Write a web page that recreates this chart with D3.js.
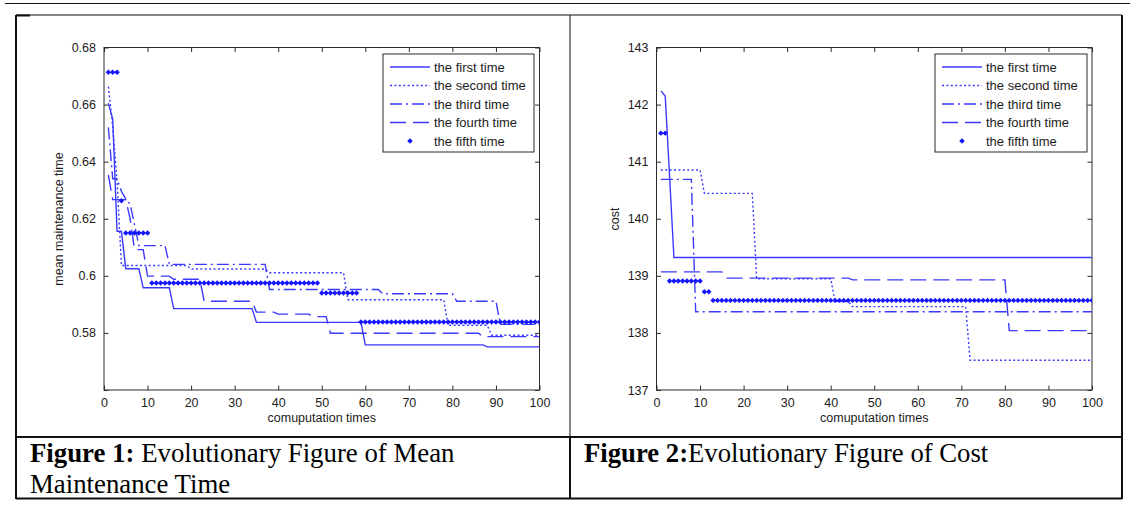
<!DOCTYPE html>
<html>
<head>
<meta charset="utf-8">
<script src="https://cdn.jsdelivr.net/npm/d3@7"></script>
<style>
  body { margin: 0; background: #fff; }
  svg { display: block; }
  .tick text { font-family: "Liberation Sans", Arial, sans-serif; }
</style>
</head>
<body>
<div id="chart"></div>
<script>
// axis ticks
let xTicks = [0, 10, 20, 30, 40, 50, 60, 70, 80, 90, 100]
let mmtTicks = [0.56, 0.58, 0.6, 0.62, 0.64, 0.66, 0.68]
let costTicks = [137, 138, 139, 140, 141, 142, 143]

let legendNames = ['the first time', 'the second time', 'the third time', 'the fourth time', 'the fifth time']

// figure 1 - mean maintenance time, steps: iteration where a new value starts
let mmtFirstX = [1, 2, 3, 5, 9, 16, 35, 60, 88]
let mmtFirstY = [0.6605, 0.6549, 0.6156, 0.6025, 0.5958, 0.5885, 0.5837, 0.5758, 0.5751]
let mmtSecondX = [1, 2, 3, 4, 20, 38, 56, 79, 89]
let mmtSecondY = [0.6663, 0.6523, 0.633, 0.6036, 0.6024, 0.6011, 0.5916, 0.5827, 0.5792]
let mmtThirdX = [1, 2, 4, 5, 6, 7, 8, 15, 38, 64, 81, 91]
let mmtThirdY = [0.652, 0.634, 0.6296, 0.627, 0.625, 0.618, 0.6106, 0.604, 0.5952, 0.5937, 0.5911, 0.583]
let mmtFourthX = [1, 2, 6, 7, 10, 16, 23, 35, 40, 48, 52, 87]
let mmtFourthY = [0.6354, 0.6267, 0.62, 0.6092, 0.5999, 0.5988, 0.5911, 0.5873, 0.5866, 0.5857, 0.5799, 0.5787]
// fifth run is drawn with markers only: runs of iterations sharing a value
let mmtFifthFrom = [1, 4, 5, 11, 50, 59]
let mmtFifthTo = [3, 4, 10, 49, 58, 100]
let mmtFifthY = [0.6713, 0.6263, 0.615, 0.5975, 0.594, 0.5838]

// figure 2 - cost
let costFirstX = [1, 2, 3, 4]
let costFirstY = [142.24, 142.15, 140.75, 139.32]
let costSecondX = [1, 11, 23, 41, 45, 72]
let costSecondY = [140.855, 140.445, 138.95, 138.55, 138.46, 137.52]
let costThirdX = [1, 9]
let costThirdY = [140.69, 138.37]
let costFourthX = [1, 16, 45, 81]
let costFourthY = [139.07, 138.96, 138.93, 138.04]
let costFifthFrom = [1, 3, 11, 13]
let costFifthTo = [2, 10, 12, 100]
let costFifthY = [141.5, 138.91, 138.72, 138.57]

let W = 1130
let H = 506
let blue = '#3a3aff'
let markBlue = '#1414ff'
let sans = '"Liberation Sans", Arial, sans-serif'
let serif = '"Liberation Serif", "Times New Roman", serif'
let dashes = [null, '2,2.4', '12,4,2,4', '16,7']

let svg = d3
	.select('#chart')
	.append('svg:svg')
	.attr('width', W)
	.attr('height', H)

svg.append('svg:rect').attr('width', W).attr('height', H).attr('fill', '#fff')

// turn step starts into polyline vertices (one iteration between levels)
let stepPoints = (starts, vals) => {
	let pts = []
	starts.forEach((s, i) => {
		let e = i < starts.length - 1 ? starts[i + 1] - 1 : 100
		pts.push([s, vals[i]])
		if (e > s) pts.push([e, vals[i]])
	})
	return pts
}

let drawPanel = p => {
	let x = d3.scaleLinear().domain([0, 100]).range([p.left, p.right])
	let y = d3.scaleLinear().domain(p.domain).range([390, 47.5])
	let g = svg.append('svg:g')

	let clipId = 'clip' + p.id
	g.append('svg:clipPath')
		.attr('id', clipId)
		.append('svg:rect')
		.attr('x', p.left)
		.attr('y', 47.5)
		.attr('width', p.right - p.left)
		.attr('height', 390 - 47.5)

	// box with inward ticks on all sides
	g.append('svg:rect')
		.attr('x', p.left)
		.attr('y', 47.5)
		.attr('width', p.right - p.left)
		.attr('height', 390 - 47.5)
		.attr('fill', 'none')
		.attr('stroke', '#2b2b2b')
		.attr('stroke-width', 1)

	let axB = g.append('g').attr('transform', 'translate(0,390)')
		.call(d3.axisBottom(x).tickValues(xTicks).tickSizeInner(-4.5).tickSizeOuter(0).tickPadding(8))
	let axT = g.append('g').attr('transform', 'translate(0,47.5)')
		.call(d3.axisTop(x).tickValues(xTicks).tickSizeInner(-4.5).tickSizeOuter(0).tickFormat(''))
	let axL = g.append('g').attr('transform', `translate(${p.left},0)`)
		.call(d3.axisLeft(y).tickValues(p.ticks).tickSizeInner(-4.5).tickSizeOuter(0).tickPadding(8)
			.tickFormat(d => (p.hideBottom && d === p.domain[0]) ? '' : d3.format(p.fmt)(d)))
	let axR = g.append('g').attr('transform', `translate(${p.right},0)`)
		.call(d3.axisRight(y).tickValues(p.ticks).tickSizeInner(-4.5).tickSizeOuter(0).tickFormat(''))
	;[axB, axT, axL, axR].forEach(a => {
		a.select('.domain').remove()
		a.selectAll('line').attr('stroke', '#2b2b2b')
		a.selectAll('text').attr('font-size', 12.5).attr('fill', '#1c1c1c').attr('font-family', sans)
	})

	// the four line runs
	let line = d3.line().x(d => x(d[0])).y(d => y(d[1]))
	let lines = g.append('g').attr('clip-path', `url(#${clipId})`)
	p.series.forEach((s, i) => {
		lines.append('svg:path')
			.attr('d', line(stepPoints(s[0], s[1])))
			.attr('fill', 'none')
			.attr('stroke', blue)
			.attr('stroke-width', 1.4)
			.attr('stroke-dasharray', dashes[i])
	})

	// fifth run markers
	let marker = d3.symbol(d3.symbolSquare, 15)
	let pts = []
	p.fifth[0].forEach((f, i) => {
		d3.range(f, p.fifth[1][i] + 1).forEach(k => pts.push([k, p.fifth[2][i]]))
	})
	lines.selectAll('.mk')
		.data(pts)
		.enter()
		.append('svg:path')
		.attr('class', 'mk')
		.attr('d', marker)
		.attr('transform', d => `translate(${x(d[0])},${y(d[1])}) rotate(45)`)
		.attr('fill', markBlue)

	// axis labels
	g.append('svg:text')
		.attr('x', (p.left + p.right) / 2)
		.attr('y', 422)
		.attr('text-anchor', 'middle')
		.attr('font-family', sans)
		.attr('font-size', 12.5)
		.attr('fill', '#1c1c1c')
		.text('comuputation times')
	g.append('svg:text')
		.attr('transform', `translate(${p.ylabelX},219) rotate(-90)`)
		.attr('text-anchor', 'middle')
		.attr('font-family', sans)
		.attr('font-size', 12.5)
		.attr('fill', '#1c1c1c')
		.text(p.ylabel)

	// legend
	let lg = g.append('g')
	lg.append('svg:rect')
		.attr('x', p.legX)
		.attr('y', 54)
		.attr('width', p.legW)
		.attr('height', 98)
		.attr('fill', '#fff')
		.attr('stroke', '#2b2b2b')
		.attr('stroke-width', 1)
	legendNames.forEach((name, i) => {
		let ry = 67 + i * 18.5
		if (i < 4) {
			lg.append('svg:line')
				.attr('x1', p.legX + 7)
				.attr('x2', p.legX + 47)
				.attr('y1', ry)
				.attr('y2', ry)
				.attr('stroke', blue)
				.attr('stroke-width', 1.4)
				.attr('stroke-dasharray', dashes[i])
		} else {
			lg.append('svg:path')
				.attr('d', marker)
				.attr('transform', `translate(${p.legX + 27},${ry}) rotate(45)`)
				.attr('fill', markBlue)
		}
		lg.append('svg:text')
			.attr('x', p.legX + 51)
			.attr('y', ry + 4.5)
			.attr('font-family', sans)
			.attr('font-size', 13)
			.attr('fill', '#1c1c1c')
			.text(name)
	})
}

// table frame round the two figures
let frame = svg.append('g').attr('stroke', '#111').attr('fill', 'none')
frame.append('svg:line').attr('x1', 5).attr('x2', W).attr('y1', 3.5).attr('y2', 3.5).attr('stroke-width', 1)
frame.append('svg:line').attr('x1', 16).attr('x2', 1122).attr('y1', 15).attr('y2', 15).attr('stroke-width', 1.2)
frame.append('svg:line').attr('x1', 16).attr('x2', 30).attr('y1', 15.5).attr('y2', 15.5).attr('stroke-width', 2)
frame.append('svg:line').attr('x1', 16).attr('x2', 16).attr('y1', 15).attr('y2', 499).attr('stroke-width', 2)
frame.append('svg:line').attr('x1', 1122).attr('x2', 1122).attr('y1', 15).attr('y2', 499).attr('stroke-width', 2)
frame.append('svg:line').attr('x1', 570).attr('x2', 570).attr('y1', 15).attr('y2', 436).attr('stroke-width', 1)
frame.append('svg:line').attr('x1', 570).attr('x2', 570).attr('y1', 436).attr('y2', 499).attr('stroke-width', 2)
frame.append('svg:line').attr('x1', 16).attr('x2', 1122).attr('y1', 437).attr('y2', 437).attr('stroke-width', 2)
frame.append('svg:line').attr('x1', 16).attr('x2', 1122).attr('y1', 498.5).attr('y2', 498.5).attr('stroke-width', 2)

drawPanel({
	id: 1,
	left: 104,
	right: 539.5,
	domain: [0.56, 0.68],
	ticks: mmtTicks,
	fmt: '',
	hideBottom: true,
	ylabel: 'mean maintenance time',
	ylabelX: 63,
	legX: 383,
	legW: 151,
	series: [[mmtFirstX, mmtFirstY], [mmtSecondX, mmtSecondY], [mmtThirdX, mmtThirdY], [mmtFourthX, mmtFourthY]],
	fifth: [mmtFifthFrom, mmtFifthTo, mmtFifthY]
})

drawPanel({
	id: 2,
	left: 656.5,
	right: 1092,
	domain: [137, 143],
	ticks: costTicks,
	fmt: 'd',
	hideBottom: false,
	ylabel: 'cost',
	ylabelX: 619,
	legX: 935,
	legW: 152,
	series: [[costFirstX, costFirstY], [costSecondX, costSecondY], [costThirdX, costThirdY], [costFourthX, costFourthY]],
	fifth: [costFifthFrom, costFifthTo, costFifthY]
})

// captions
let cap1 = svg.append('svg:text').attr('font-family', serif).attr('font-size', 26.8).attr('fill', '#000')
cap1.append('svg:tspan').attr('x', 30).attr('y', 462).attr('font-weight', 'bold').text('Figure 1:')
cap1.append('svg:tspan').text(' Evolutionary Figure of Mean')
cap1.append('svg:tspan').attr('x', 30).attr('y', 493).text('Maintenance Time')

let cap2 = svg.append('svg:text').attr('font-family', serif).attr('font-size', 26.7).attr('fill', '#000')
cap2.append('svg:tspan').attr('x', 584).attr('y', 462).attr('font-weight', 'bold').text('Figure 2:')
cap2.append('svg:tspan').text('Evolutionary Figure of Cost')
</script>
</body>
</html>
